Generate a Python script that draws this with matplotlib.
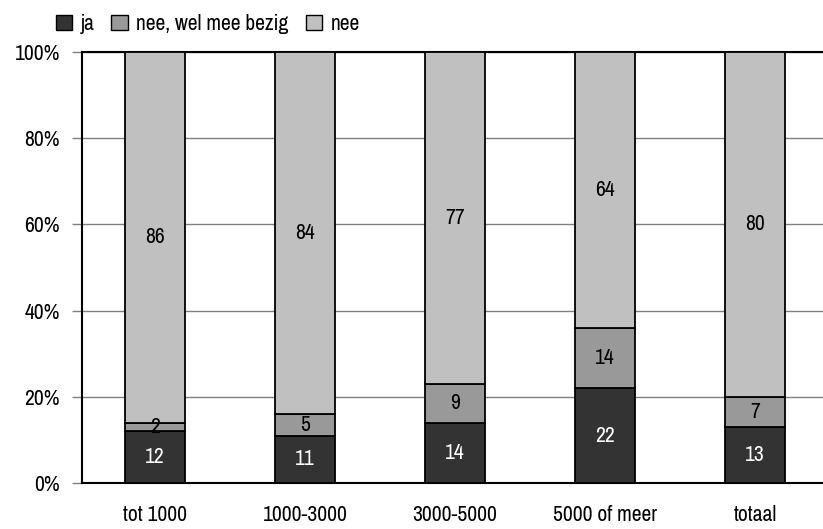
import matplotlib
matplotlib.use("Agg")
import matplotlib.pyplot as plt
from matplotlib import font_manager
from matplotlib.patches import Patch
import numpy as np

# data
categories = ["tot 1000", "1000-3000", "3000-5000", "5000 of meer", "totaal"]
ja = [12, 11, 14, 22, 13]
wel_mee_bezig = [2, 5, 9, 14, 7]
nee = [86, 84, 77, 64, 80]
series_names = ["ja", "nee, wel mee bezig", "nee"]

# smalle letter als die er is
fl = font_manager.fontManager.ttflist
narrow = [f for f in fl if "Narrow" in f.name or "Narrow" in f.fname]
if narrow:
    plt.rcParams["font.family"] = [narrow[0].name, "DejaVu Sans"]
    fs = 15.5
else:
    plt.rcParams["font.family"] = ["Liberation Sans", "DejaVu Sans"]
    fs = 13.5

fig = plt.figure(figsize=(8.23, 5.29), dpi=100)
ax = fig.add_axes([82 / 823, 46 / 529, 741 / 823, 431 / 529])

colors = ["#333333", "#999999", "#c0c0c0"]
txt_colors = ["white", "black", "black"]
x = np.arange(len(categories))
width = 0.4

bottom = np.zeros(len(categories))
for vals, col, tc in zip([ja, wel_mee_bezig, nee], colors, txt_colors):
    vals = np.array(vals, dtype=float)
    ax.bar(x, vals, width, bottom=bottom, color=col, edgecolor="black", linewidth=1.3, zorder=3)
    for xi, b, v in zip(x, bottom, vals):
        ax.text(xi, b + v / 2, str(int(v)), ha="center", va="center", color=tc, fontsize=fs, zorder=4)
    bottom += vals

ax.set_xlim((82 - 155) / 150, (823 - 155) / 150)
ax.set_ylim(0, 100)
ax.set_yticks([0, 20, 40, 60, 80, 100])
ax.set_yticklabels(["0%", "20%", "40%", "60%", "80%", "100%"], fontsize=fs)
ax.yaxis.grid(True, color="#808080", linewidth=1, zorder=0)
ax.set_xticks(x)
ax.set_xticklabels(categories, fontsize=fs)
ax.tick_params(axis="x", length=0, pad=16)
ax.tick_params(axis="y", length=7, width=1, pad=9, color="#808080")
ax.spines["right"].set_visible(False)
ax.spines["top"].set_linewidth(1.5)
ax.spines["left"].set_linewidth(1.5)
ax.spines["bottom"].set_linewidth(1.5)

handles = [Patch(facecolor=c, edgecolor="black", linewidth=1) for c in colors]
fig.legend(handles, series_names, loc="upper left", bbox_to_anchor=(47 / 823, 0.99), ncol=3,
           frameon=False, fontsize=fs, handlelength=0.75, handleheight=0.75, handletextpad=0.4,
           columnspacing=0.8, borderaxespad=0)

fig.savefig("out.png", dpi=100)
